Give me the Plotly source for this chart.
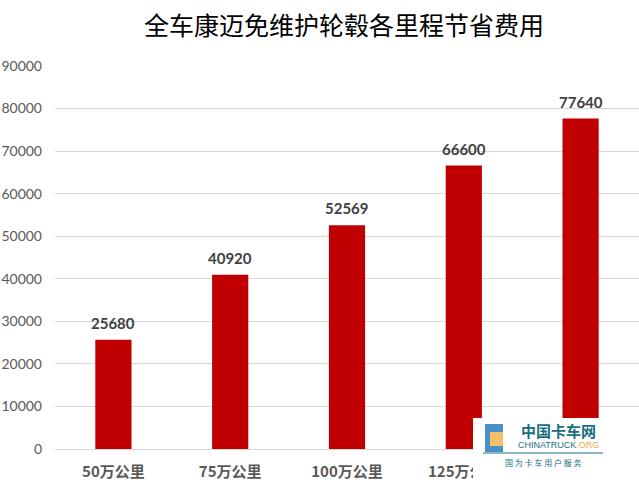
import plotly.graph_objects as go

categories = ["50万公里", "75万公里", "100万公里", "125万公里", "150万公里"]
values = [25680, 40920, 52569, 66600, 77640]
y_ticks = [0, 10000, 20000, 30000, 40000, 50000, 60000, 70000, 80000, 90000]

title_text = "全车康迈免维护轮毂各里程节省费用"
W, H = 639, 489
L, R, T, B = 55, 0, 66, 40
PW, PH = W - L - R, H - T - B


def px(x):
    return (x - L) / PW


def py(y):
    return (H - B - y) / PH


fig = go.Figure()
fig.add_trace(go.Bar(
    x=categories, y=values,
    marker=dict(color="#C00000", line=dict(width=0)),
    hoverinfo="x+y",
))

for c, v in zip(categories, values):
    fig.add_annotation(x=c, y=v, text=f"<b>{v}</b>", showarrow=False,
                       yanchor="bottom", yshift=6,
                       font=dict(family="Lato, Noto Sans CJK SC", size=15, color="#404040"))

fig.update_layout(
    width=W, height=H,
    margin=dict(l=L, r=R, t=T, b=B, autoexpand=False),
    paper_bgcolor="white", plot_bgcolor="white",
    bargap=0.69,
    showlegend=False,
    title=dict(text=title_text, x=px(344), xref="paper", xanchor="center",
               y=1 - 26 / H, yref="container", yanchor="middle",
               font=dict(family="Noto Sans CJK SC", size=25, color="#000000")),
    xaxis=dict(
        automargin=False,
        showgrid=False, showline=True, linecolor="#D9D9D9", linewidth=1,
        ticks="", ticklabelstandoff=9,
        tickfont=dict(family="Noto Sans CJK SC", size=15, color="#595959", weight="bold"),
    ),
    yaxis=dict(
        automargin=False,
        range=[0, 90000], tickvals=y_ticks, ticktext=[str(t) for t in y_ticks],
        showgrid=True, gridcolor="#D9D9D9", gridwidth=1, zeroline=False,
        showline=False, ticks="", ticklabelstandoff=12,
        tickfont=dict(family="Lato, Noto Sans", size=14, color="#595959"),
    ),
)

# watermark overlay (bottom-right logo area)
fig.add_shape(type="rect", xref="paper", yref="paper",
              x0=px(473), x1=px(640), y0=py(489), y1=py(418),
              fillcolor="white", line=dict(width=0), layer="above")
fig.add_shape(type="rect", xref="paper", yref="paper",
              x0=px(485), x1=px(503), y0=py(452), y1=py(424),
              fillcolor="#4A90C8", line=dict(width=0), layer="above")
fig.add_shape(type="rect", xref="paper", yref="paper",
              x0=px(490), x1=px(503), y0=py(446), y1=py(432),
              fillcolor="#F6C06A", line=dict(width=0), layer="above")
fig.add_shape(type="line", xref="paper", yref="paper",
              x0=px(483), x1=px(603), y0=py(453), y1=py(453),
              line=dict(color="#1A6E80", width=1), layer="above")
fig.add_annotation(xref="paper", yref="paper", x=px(558), y=py(430),
                   text="<b>中国卡车网</b>", showarrow=False,
                   xanchor="center", yanchor="middle",
                   font=dict(family="Noto Sans CJK SC", size=15, color="#1A6E80"))
fig.add_annotation(xref="paper", yref="paper", x=px(558), y=py(445),
                   text="CHINATRUCK<span style='color:#F2A93B'>.ORG</span>", showarrow=False,
                   xanchor="center", yanchor="middle",
                   font=dict(family="Liberation Sans", size=9, color="#1A6E80"))
fig.add_annotation(xref="paper", yref="paper", x=px(543), y=py(462),
                   text="国 为 卡 车 用 户 服 务", showarrow=False,
                   xanchor="center", yanchor="middle",
                   font=dict(family="Noto Sans CJK SC", size=8, color="#1A6E80"))

fig.write_html("out.html", config={"displayModeBar": False},
               post_script="document.body.style.margin='0';document.body.style.padding='0';")
